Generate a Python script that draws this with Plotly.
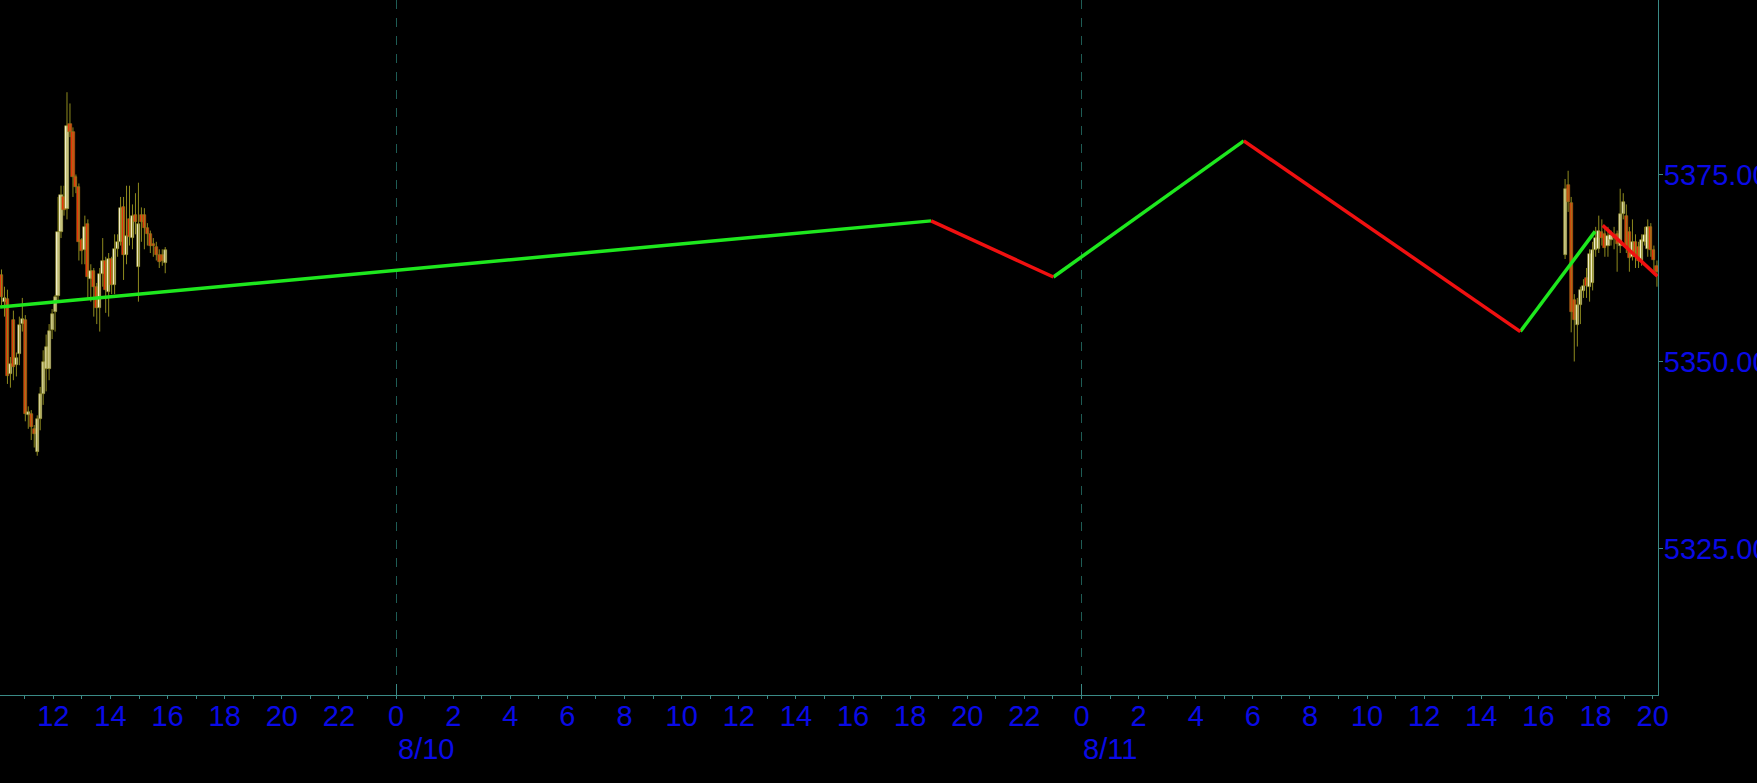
import plotly.graph_objects as go
import pandas as pd

# ---------------- data ----------------
# Left block of candles (8/9, ~10:10 -> ~15:55)
left_open = [5361.5, 5357.9, 5358.3, 5348.3, 5355.5, 5349.5, 5351.0, 5355.0, 5355.5, 5342.8,
             5343.0, 5341.0, 5337.9, 5342.3, 5345.6, 5349.0, 5349.0, 5354.2, 5356.6, 5358.8,
             5367.3, 5372.0, 5370.4, 5381.8, 5380.7, 5374.6, 5373.3, 5366.2, 5364.9, 5368.4,
             5361.0, 5362.1, 5360.0, 5357.2, 5361.7, 5363.5, 5359.3, 5363.7, 5360.2, 5365.0,
             5366.0, 5370.6, 5364.3, 5369.0, 5366.5, 5369.6, 5362.7, 5369.6, 5369.6, 5367.9,
             5367.0, 5365.7, 5365.3, 5364.3, 5364.3, 5363.2]
left_high = [5362.3, 5360.0, 5359.6, 5350.6, 5356.8, 5351.2, 5356.0, 5358.5, 5356.2, 5344.0,
             5343.5, 5341.5, 5342.8, 5346.6, 5351.5, 5353.6, 5355.0, 5357.0, 5358.9, 5372.0,
             5373.5, 5373.5, 5386.0, 5384.5, 5381.3, 5375.0, 5373.8, 5366.5, 5369.5, 5369.0,
             5363.0, 5362.5, 5360.5, 5362.5, 5366.5, 5364.0, 5364.5, 5364.0, 5367.0, 5367.0,
             5372.0, 5372.0, 5373.5, 5373.5, 5371.0, 5372.5, 5373.9, 5370.6, 5370.5, 5368.5,
             5367.5, 5366.5, 5366.0, 5365.0, 5365.0, 5365.3]
left_low = [5357.5, 5356.0, 5347.0, 5346.5, 5347.5, 5348.0, 5349.5, 5354.0, 5342.0, 5341.0,
            5339.5, 5338.5, 5337.4, 5340.8, 5344.2, 5346.0, 5347.5, 5353.0, 5354.0, 5358.0,
            5366.5, 5369.5, 5369.0, 5380.0, 5372.0, 5372.5, 5363.5, 5363.0, 5363.0, 5358.5,
            5358.0, 5356.0, 5355.0, 5354.0, 5360.0, 5356.5, 5356.0, 5359.0, 5359.0, 5364.0,
            5365.5, 5360.9, 5363.0, 5365.5, 5365.0, 5367.0, 5358.0, 5366.0, 5365.0, 5365.5,
            5364.5, 5364.0, 5363.5, 5362.5, 5362.8, 5361.8]
left_close = [5358.6, 5358.5, 5348.1, 5349.7, 5349.2, 5350.4, 5354.9, 5355.7, 5343.0, 5343.2,
              5341.2, 5340.3, 5342.3, 5345.7, 5349.9, 5352.0, 5354.1, 5356.3, 5358.6, 5367.3,
              5372.2, 5370.2, 5381.5, 5380.7, 5374.6, 5373.3, 5366.0, 5364.8, 5368.0, 5361.3,
              5362.1, 5360.0, 5357.2, 5361.7, 5363.5, 5359.5, 5363.7, 5360.2, 5365.0, 5366.0,
              5370.5, 5364.2, 5366.8, 5366.6, 5369.5, 5368.6, 5368.4, 5368.6, 5367.9, 5367.0,
              5365.5, 5365.5, 5364.3, 5363.3, 5363.5, 5364.9]
left_start, left_end = "2024-08-09 10:11", "2024-08-09 15:55"

# Right block of candles (8/11, ~16:56 -> ~20:09)
right_open = [5364.2, 5373.6, 5371.2, 5358.2, 5354.9, 5357.5, 5359.4, 5361.1, 5359.9, 5360.5,
              5364.9, 5365.0, 5367.3, 5367.0, 5365.5, 5366.2, 5366.9, 5367.0, 5365.5, 5369.7,
              5369.5, 5367.3, 5364.0, 5366.0, 5365.3, 5363.5, 5366.0, 5365.0, 5368.0, 5364.9,
              5362.8]
right_high = [5374.4, 5375.5, 5372.0, 5359.0, 5358.5, 5360.0, 5361.0, 5362.5, 5365.0, 5366.0,
              5368.0, 5369.5, 5369.0, 5368.0, 5368.0, 5367.5, 5368.0, 5367.5, 5373.1, 5372.5,
              5371.0, 5368.0, 5369.0, 5367.0, 5366.0, 5367.0, 5368.0, 5369.0, 5368.5, 5365.5,
              5363.5]
right_low = [5363.7, 5370.0, 5353.9, 5350.0, 5352.0, 5355.0, 5358.5, 5358.5, 5358.0, 5359.5,
             5364.0, 5364.5, 5365.5, 5364.0, 5364.0, 5365.5, 5365.0, 5362.0, 5364.5, 5369.0,
             5364.5, 5362.0, 5363.5, 5362.5, 5362.5, 5362.8, 5365.5, 5364.0, 5364.0, 5362.0,
             5360.0]
right_close = [5373.1, 5371.3, 5356.6, 5355.5, 5357.5, 5359.5, 5360.1, 5360.1, 5364.4, 5364.9,
               5366.5, 5367.5, 5366.5, 5365.2, 5366.8, 5366.9, 5366.5, 5365.7, 5369.7, 5371.3,
               5365.5, 5363.8, 5366.0, 5364.2, 5363.4, 5366.2, 5366.9, 5368.0, 5364.9, 5363.6,
               5362.0]
right_start, right_end = "2024-08-11 16:56", "2024-08-11 20:09"

# ZigZag pivots
zz_time = ["2024-08-09 10:08", "2024-08-10 18:44", "2024-08-10 23:01",
           "2024-08-11 05:41", "2024-08-11 15:22", "2024-08-11 17:59"]
zz_price = [5357.3, 5368.8, 5361.3, 5379.5, 5354.0, 5367.4]
zz_last_time = ["2024-08-11 18:15", "2024-08-11 20:10"]
zz_last_price = [5368.2, 5361.4]

# Axis ticks
y_ticks = [5325, 5350, 5375]
y_labels = ["5325.00", "5350.00", "5375.00"]
x_range = ["2024-08-09 10:07:52", "2024-08-11 20:11:13"]
hour_ticks = pd.date_range("2024-08-09 11:00", "2024-08-11 20:00", freq="1h")
hour_labels = [str(t.hour) if t.hour % 2 == 0 else "" for t in hour_ticks]
day_ticks = ["2024-08-10 00:00", "2024-08-11 00:00"]
day_labels = ["8/10", "8/11"]

# ---------------- styling ----------------
BLUE = "#0A0AE6"
TEAL = "#3A8A86"
GRID = "#1E5C55"
FONT = "Liberation Sans"
FS = 29
WICK = "#8E8A1E"
UP_FILL, UP_EDGE = "#FFFCE0", "#8E8A1E"
DN_FILL, DN_EDGE = "#F02A0A", "#A0741A"
BODY_MS = 6.6 * 60 * 1000  # body width (ms)

times, O, H, L, C = [], [], [], [], []
for start, end, o, h, l, c in [
    (left_start, left_end, left_open, left_high, left_low, left_close),
    (right_start, right_end, right_open, right_high, right_low, right_close),
]:
    times += list(pd.date_range(start, end, periods=len(o)))
    O += o; H += h; L += l; C += c

fig = go.Figure()

# wicks
wx, wy = [], []
for t, h, l in zip(times, H, L):
    wx += [t, t, None]
    wy += [l, h, None]
fig.add_trace(go.Scatter(x=wx, y=wy, mode="lines", line=dict(color=WICK, width=1),
                         hoverinfo="skip", showlegend=False, connectgaps=False))

# bodies
base = [min(o, c) for o, c in zip(O, C)]
height = [max(abs(c - o), 0.15) for o, c in zip(O, C)]
fills = [UP_FILL if c >= o else DN_FILL for o, c in zip(O, C)]
edges = [UP_EDGE if c >= o else DN_EDGE for o, c in zip(O, C)]
fig.add_trace(go.Bar(x=times, y=height, base=base, width=BODY_MS,
                     marker=dict(color=fills, line=dict(color=edges, width=0.6)),
                     hoverinfo="skip", showlegend=False))

# zigzag segments: up legs green, down legs red
g_x, g_y, r_x, r_y = [], [], [], []
for i in range(len(zz_time) - 1):
    up = zz_price[i + 1] > zz_price[i]
    xs, ys = (g_x, g_y) if up else (r_x, r_y)
    xs += [zz_time[i], zz_time[i + 1], None]
    ys += [zz_price[i], zz_price[i + 1], None]
r_x += zz_last_time
r_y += zz_last_price

fig.add_trace(go.Scatter(x=g_x, y=g_y, mode="lines", xaxis="x2",
                         line=dict(color="#1EE81E", width=3.5), hoverinfo="skip",
                         showlegend=False, connectgaps=False))
fig.add_trace(go.Scatter(x=r_x, y=r_y, mode="lines", xaxis="x2",
                         line=dict(color="#F01010", width=3.5), hoverinfo="skip",
                         showlegend=False, connectgaps=False))

fig.update_layout(
    width=1757, height=783,
    margin=dict(l=0, r=99, t=0, b=88),
    paper_bgcolor="black", plot_bgcolor="black",
    showlegend=False, barmode="overlay", bargap=0,
    xaxis=dict(
        type="date", range=x_range,
        tickmode="array", tickvals=list(hour_ticks), ticktext=hour_labels,
        tickfont=dict(family=FONT, size=FS, color=BLUE),
        ticks="outside", ticklen=3, tickcolor=TEAL, tickwidth=1,
        ticklabelstandoff=-8,
        showline=True, linecolor=TEAL, linewidth=1,
        showgrid=False, zeroline=False, automargin=False,
    ),
    xaxis2=dict(
        type="date", range=x_range, overlaying="x", side="bottom",
        tickmode="array", tickvals=day_ticks, showticklabels=False,
        ticks="inside", ticklen=11, tickcolor=TEAL, tickwidth=1,
        showgrid=True, gridcolor=GRID, griddash="dash", gridwidth=1,
        showline=False, zeroline=False, automargin=False,
    ),
    yaxis=dict(
        side="right", range=[5305.41, 5398.33],
        tickmode="array", tickvals=y_ticks, ticktext=y_labels,
        tickfont=dict(family=FONT, size=FS, color=BLUE),
        ticks="outside", ticklen=4, tickcolor=TEAL, tickwidth=1,
        ticklabelstandoff=-5,
        showline=True, linecolor=TEAL, linewidth=1,
        showgrid=False, zeroline=False, automargin=False,
    ),
)

for d, lab in zip(day_ticks, day_labels):
    fig.add_annotation(x=d, xref="x", y=-0.0777, yref="paper", text=lab,
                       showarrow=False, xanchor="left", yanchor="middle",
                       font=dict(family=FONT, size=FS, color=BLUE))

fig.write_html(
    "out.html",
    config={"displayModeBar": False},
    post_script="document.body.style.margin='0';document.body.style.background='black';"
                "document.body.style.overflow='hidden';",
)
